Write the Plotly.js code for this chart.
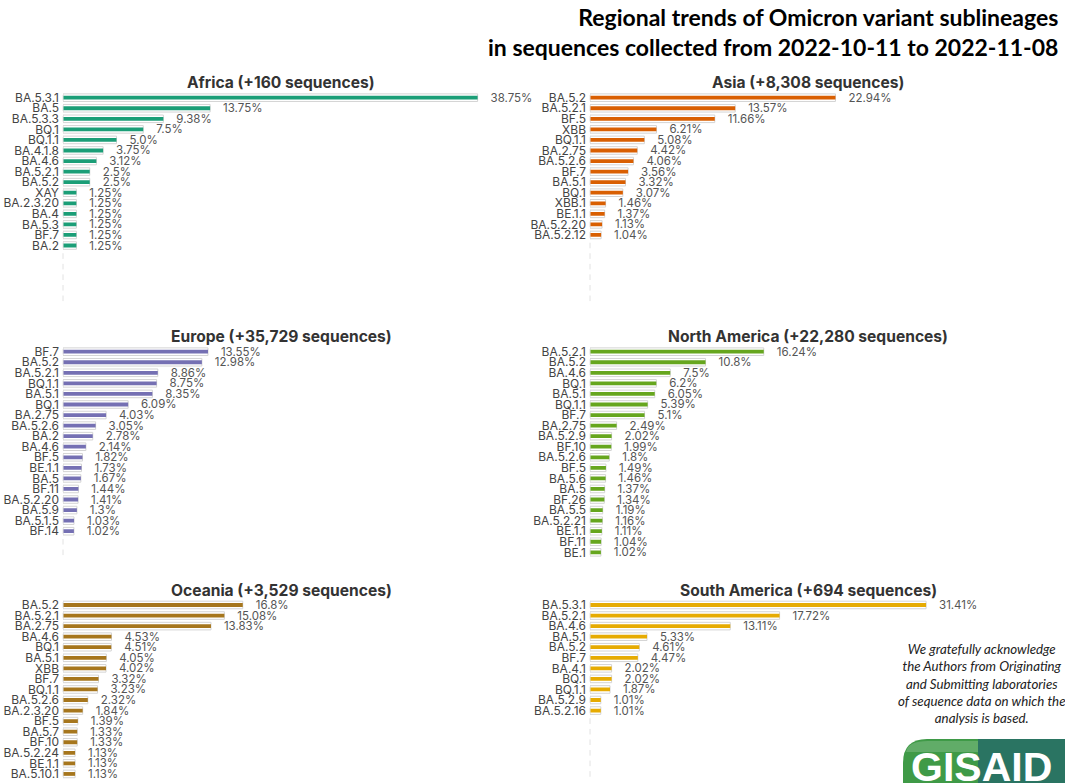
<!DOCTYPE html>
<html><head><meta charset="utf-8">
<script src="https://cdn.plot.ly/plotly-3.0.1.min.js"></script>
<style>html,body{margin:0;padding:0;background:#fff;} #chart{width:1065px;height:783px;}</style>
</head><body><div id="chart"></div>
<script>
// ---------------- DATA ----------------
const mainTitle = 'Regional trends of Omicron variant sublineages<br>in sequences collected from 2022-10-11 to 2022-11-08';
const ackText = 'We gratefully acknowledge<br>the Authors from Originating<br>and Submitting laboratories<br>of sequence data on which the<br>analysis is based.';

const regionTitles = ['Africa (+160 sequences)', 'Asia (+8,308 sequences)', 'Europe (+35,729 sequences)',
  'North America (+22,280 sequences)', 'Oceania (+3,529 sequences)', 'South America (+694 sequences)'];

const africaLabels = ['BA.5.3.1','BA.5','BA.5.3.3','BQ.1','BQ.1.1','BA.4.1.8','BA.4.6','BA.5.2.1','BA.5.2','XAY','BA.2.3.20','BA.4','BA.5.3','BF.7','BA.2'];
const africaPct = ['38.75','13.75','9.38','7.5','5.0','3.75','3.12','2.5','2.5','1.25','1.25','1.25','1.25','1.25','1.25'];

const asiaLabels = ['BA.5.2','BA.5.2.1','BF.5','XBB','BQ.1.1','BA.2.75','BA.5.2.6','BF.7','BA.5.1','BQ.1','XBB.1','BE.1.1','BA.5.2.20','BA.5.2.12'];
const asiaPct = ['22.94','13.57','11.66','6.21','5.08','4.42','4.06','3.56','3.32','3.07','1.46','1.37','1.13','1.04'];

const europeLabels = ['BF.7','BA.5.2','BA.5.2.1','BQ.1.1','BA.5.1','BQ.1','BA.2.75','BA.5.2.6','BA.2','BA.4.6','BF.5','BE.1.1','BA.5','BF.11','BA.5.2.20','BA.5.9','BA.5.1.5','BF.14'];
const europePct = ['13.55','12.98','8.86','8.75','8.35','6.09','4.03','3.05','2.78','2.14','1.82','1.73','1.67','1.44','1.41','1.3','1.03','1.02'];

const northAmericaLabels = ['BA.5.2.1','BA.5.2','BA.4.6','BQ.1','BA.5.1','BQ.1.1','BF.7','BA.2.75','BA.5.2.9','BF.10','BA.5.2.6','BF.5','BA.5.6','BA.5','BF.26','BA.5.5','BA.5.2.21','BE.1.1','BF.11','BE.1'];
const northAmericaPct = ['16.24','10.8','7.5','6.2','6.05','5.39','5.1','2.49','2.02','1.99','1.8','1.49','1.46','1.37','1.34','1.19','1.16','1.11','1.04','1.02'];

const oceaniaLabels = ['BA.5.2','BA.5.2.1','BA.2.75','BA.4.6','BQ.1','BA.5.1','XBB','BF.7','BQ.1.1','BA.5.2.6','BA.2.3.20','BF.5','BA.5.7','BF.10','BA.5.2.24','BE.1.1','BA.5.10.1'];
const oceaniaPct = ['16.8','15.08','13.83','4.53','4.51','4.05','4.02','3.32','3.23','2.32','1.84','1.39','1.33','1.33','1.13','1.13','1.13'];

const southAmericaLabels = ['BA.5.3.1','BA.5.2.1','BA.4.6','BA.5.1','BA.5.2','BF.7','BA.4.1','BQ.1','BQ.1.1','BA.5.2.9','BA.5.2.16'];
const southAmericaPct = ['31.41','17.72','13.11','5.33','4.61','4.47','2.02','2.02','1.87','1.01','1.01'];

const regionLabels = [africaLabels, asiaLabels, europeLabels, northAmericaLabels, oceaniaLabels, southAmericaLabels];
const regionPct = [africaPct, asiaPct, europePct, northAmericaPct, oceaniaPct, southAmericaPct];
const regionColors = ['#1b9e77','#d95f02','#7570b3','#66a61e','#a6761d','#e6ab02'];

// ---------------- LAYOUT GEOMETRY (pixels) ----------------
const W = 1065, H = 783;
const colX0 = [63, 590];
const colTitleX = [281, 808];
const axisW = 428, xMax = 40;
const rowTop = [92.4, 346.4, 599.7];
const rowTitleY = [82, 336, 590];
const slot = 10.56, nSlots = 20;
const FONT = 'Inter, "Noto Sans", sans-serif';

const px = x => x / W;
const py = y => 1 - y / H;

const data = [];
const layout = {
  width: W, height: H, autosize: false,
  margin: {l: 0, r: 0, t: 0, b: 0},
  paper_bgcolor: '#fff', plot_bgcolor: 'rgba(0,0,0,0)',
  showlegend: false, barmode: 'overlay',
  annotations: [], shapes: []
};

regionLabels.forEach((labels, i) => {
  const col = i % 2, row = Math.floor(i / 2);
  const sfx = i === 0 ? '' : String(i + 1);
  const xa = 'x' + sfx, ya = 'y' + sfx;
  const top = rowTop[row];
  const bottom = Math.min(top + nSlots * slot, H);
  const visible = (bottom - top) / slot;
  const vals = regionPct[i].map(Number);
  const idx = labels.map((_, k) => k);
  const slots = [];
  for (let k = 0; k < Math.ceil(visible); k++) slots.push(k);

  // faint slot markers at baseline
  data.push({
    type: 'scatter', mode: 'markers', xaxis: xa, yaxis: ya,
    x: slots.map(() => 0), y: slots, cliponaxis: false, hoverinfo: 'skip',
    marker: {symbol: 'line-ns', size: 4, color: '#e2e2e2', line: {color: '#e2e2e2', width: 1}}
  });
  // outline bars
  data.push({
    type: 'bar', orientation: 'h', xaxis: xa, yaxis: ya,
    x: vals, y: idx, width: 0.72, hoverinfo: 'skip',
    marker: {color: '#ffffff', line: {color: '#d4d4d4', width: 1}}
  });
  // main bars
  data.push({
    type: 'bar', orientation: 'h', xaxis: xa, yaxis: ya,
    x: vals, y: idx, width: 0.36,
    marker: {color: regionColors[i], line: {width: 0}},
    text: regionPct[i].map(s => '\u00a0\u00a0\u00a0\u00a0' + s + '%'),
    textposition: 'outside', cliponaxis: false, constraintext: 'none',
    textangle: 0, textfont: {family: FONT, size: 11.5, color: '#555'}
  });

  const x0 = colX0[col];
  layout['xaxis' + sfx] = {
    domain: [px(x0), px(x0 + axisW)], range: [0, xMax], anchor: ya,
    visible: false, fixedrange: true
  };
  layout['yaxis' + sfx] = {
    domain: [py(bottom), py(top)], range: [visible - 0.5, -0.5], anchor: xa,
    tickmode: 'array', tickvals: idx, ticktext: labels,
    showgrid: false, zeroline: false, showline: false, ticks: '',
    ticklabelstandoff: 3,
    tickfont: {family: FONT, size: 12, color: '#444'}, fixedrange: true
  };
  layout.annotations.push({
    xref: 'paper', yref: 'paper', x: px(colTitleX[col]), y: py(rowTitleY[row]),
    xanchor: 'center', yanchor: 'middle', showarrow: false,
    text: '<b>' + regionTitles[i] + '</b>',
    font: {family: FONT, size: 15.6, color: '#333'}
  });
});

// main title
layout.annotations.push({
  xref: 'paper', yref: 'paper', x: px(1060), y: py(1), xanchor: 'right', yanchor: 'top',
  align: 'right', showarrow: false, text: '<b>' + mainTitle + '</b>',
  font: {family: 'Lato, "Open Sans", sans-serif', size: 23, color: '#000'}
});
// acknowledgement
layout.annotations.push({
  xref: 'paper', yref: 'paper', x: px(982), y: py(683), xanchor: 'center', yanchor: 'middle',
  align: 'center', showarrow: false, text: '<i>' + ackText + '</i>',
  font: {family: 'Lato, "Open Sans", sans-serif', size: 13.3, color: '#222'}
});

// GISAID logo
layout.shapes.push({
  type: 'path', xref: 'paper', yref: 'paper', layer: 'above',
  path: 'M ' + px(903) + ',' + py(790) + ' L ' + px(903) + ',' + py(763) +
        ' Q ' + px(903) + ',' + py(739) + ' ' + px(927) + ',' + py(739) +
        ' L ' + px(1065) + ',' + py(739) + ' L ' + px(1065) + ',' + py(790) + ' Z',
  fillcolor: '#3f9a47', line: {width: 0}
});
layout.shapes.push({
  type: 'rect', xref: 'paper', yref: 'paper', layer: 'above',
  x0: px(978), x1: px(1065), y0: py(790), y1: py(739),
  fillcolor: '#2a7462', line: {width: 0}
});
layout.shapes.push({
  type: 'path', xref: 'paper', yref: 'paper', layer: 'above',
  path: 'M ' + px(906) + ',' + py(752) + ' Q ' + px(908) + ',' + py(741) + ' ' + px(928) + ',' + py(741) +
        ' L ' + px(978) + ',' + py(741) + ' L ' + px(978) + ',' + py(752) + ' Z',
  fillcolor: 'rgba(255,255,255,0.18)', line: {width: 0}
});
layout.annotations.push({
  xref: 'paper', yref: 'paper', x: px(981), y: py(767), xanchor: 'center', yanchor: 'middle',
  showarrow: false, text: '<b>GISAID</b>',
  font: {family: '"Liberation Sans", Arial, sans-serif', size: 41, color: '#fff'}
});

Plotly.newPlot('chart', data, layout, {staticPlot: true, displayModeBar: false});
</script>
</body></html>
